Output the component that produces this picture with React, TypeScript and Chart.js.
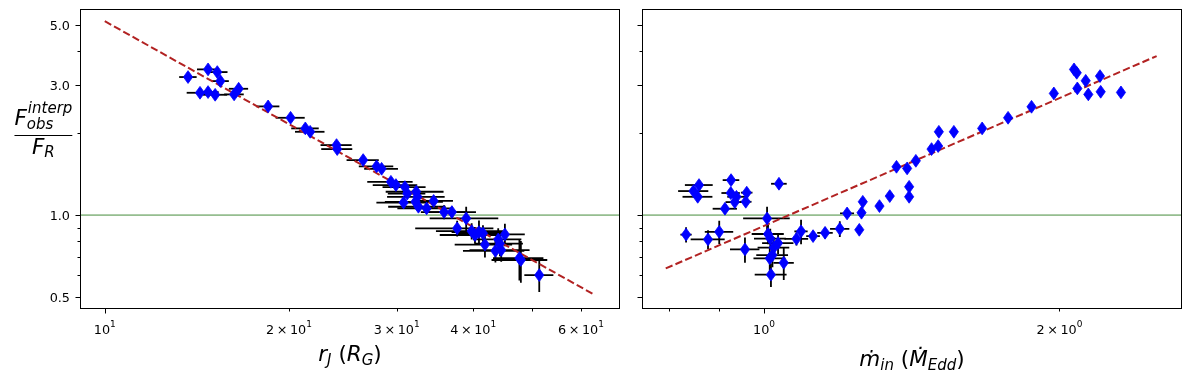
import React, { useEffect, useRef } from 'react';
import { Chart, registerables } from 'chart.js';

Chart.register(...registerables);

// ---------------- Left panel: r_J (R_G) vs F_obs^interp / F_R ----------------
const LEFT_R = [13.68, 14.75, 15.27, 15.45, 14.31, 14.75, 15.15, 16.27, 16.55, 18.49, 20.12, 21.27, 21.66, 23.92, 23.98, 26.44, 27.81, 28.34, 29.35, 29.91, 30.94, 31.21, 30.79, 32.28, 32.43, 32.19, 32.55, 33.57, 34.47, 35.85, 36.92, 38.96, 37.66, 39.77, 40.27, 40.88, 41.5, 41.81, 43.95, 45.07, 44.23, 43.49, 44.45, 47.6, 47.86, 51.29];
const LEFT_F = [3.212, 3.427, 3.35, 3.104, 2.812, 2.829, 2.765, 2.774, 2.909, 2.506, 2.276, 2.081, 2.022, 1.807, 1.747, 1.592, 1.51, 1.479, 1.325, 1.289, 1.267, 1.199, 1.111, 1.218, 1.167, 1.119, 1.073, 1.058, 1.127, 1.026, 1.026, 0.972, 0.894, 0.873, 0.845, 0.866, 0.857, 0.779, 0.814, 0.849, 0.786, 0.739, 0.744, 0.695, 0.684, 0.602];
const LEFT_R_ERR = [0.45, 0.6, 0.6, 0.5, 0.7, 0.6, 0.7, 0.6, 0.6, 0.8, 1.1, 1.1, 1.2, 1.4, 1.4, 1.6, 1.8, 1.8, 2.5, 2.5, 2.5, 2.2, 3.0, 3.5, 3.5, 3.5, 3.5, 3.5, 2.6, 3.0, 3.5, 5.0, 5.5, 5.0, 5.0, 4.0, 4.0, 4.5, 4.0, 3.5, 4.0, 5.0, 5.0, 4.5, 5.0, 2.8];
const LEFT_F_ERR = [0, 0, 0, 0, 0, 0, 0, 0, 0, 0, 0, 0, 0, 0, 0, 0, 0, 0, 0, 0, 0, 0, 0.05, 0.04, 0.04, 0.04, 0.04, 0.04, 0.04, 0.06, 0.05, 0.1, 0.06, 0.06, 0.06, 0.09, 0.06, 0.08, 0.08, 0.08, 0.08, 0.07, 0.07, 0.12, 0.12, 0.08];
const LEFT_FIT_R = [10, 62.8];
const LEFT_FIT_F = [5.15, 0.513];
const LEFT_X_LIMITS = [9.11, 69.5];
const LEFT_X_TICKS = [10, 20, 30, 40, 50, 60];
const LEFT_X_TICK_LABELS = ['10^1', '2\u2009×\u200910^1', '3\u2009×\u200910^1', '4\u2009×\u200910^1', '', '6\u2009×\u200910^1'];
const LEFT_X_MAJOR = [10];

// ---------------- Right panel: mdot_in (Mdot_Edd) vs F_obs^interp / F_R ----------------
const RIGHT_M = [0.8585, 0.8474, 0.8559, 0.9255, 0.9248, 0.9373, 0.9336, 0.9602, 0.958, 0.9124, 1.0356, 1.0071, 0.8328, 0.8768, 0.9002, 0.9562, 1.0094, 1.0147, 1.0334, 1.023, 1.0135, 1.0199, 1.0473, 1.0163, 1.079, 1.0907, 1.1219, 1.1539, 1.1945, 1.2151, 1.2504, 1.2569, 1.2607, 1.311, 1.3431, 1.3644, 1.3989, 1.4055, 1.4055, 1.4278, 1.4814, 1.5045, 1.507, 1.561, 1.6681, 1.7728, 1.873, 1.9737, 2.0694, 2.0826, 2.0855, 2.1269, 2.1399, 2.1994, 2.203, 2.3103];
const RIGHT_F = [1.289, 1.225, 1.167, 1.344, 1.205, 1.167, 1.116, 1.209, 1.119, 1.055, 1.303, 0.972, 0.848, 0.814, 0.868, 0.748, 0.852, 0.82, 0.789, 0.76, 0.694, 0.713, 0.668, 0.604, 0.818, 0.872, 0.837, 0.861, 0.89, 1.014, 0.883, 1.02, 1.119, 1.079, 1.174, 1.504, 1.484, 1.27, 1.167, 1.582, 1.747, 1.792, 2.022, 2.022, 2.081, 2.276, 2.498, 2.797, 3.427, 3.33, 2.918, 3.112, 2.774, 3.238, 2.836, 2.821];
const RIGHT_M_ERR = [0.028, 0.03, 0.03, 0.018, 0.02, 0.02, 0.02, 0.013, 0.013, 0.026, 0.019, 0.055, 0.011, 0.035, 0.03, 0.033, 0.038, 0.038, 0.038, 0.038, 0.038, 0.038, 0.025, 0.038, 0.03, 0.017, 0.018, 0.021, 0.027, 0.02, 0.01, 0.01, 0.01, 0.01, 0.01, 0.008, 0.008, 0.008, 0.008, 0.008, 0.008, 0.008, 0.008, 0.008, 0.01, 0.01, 0.01, 0.01, 0.01, 0.01, 0.01, 0.01, 0.01, 0.01, 0.01, 0.01];
const RIGHT_F_ERR = [0, 0, 0, 0, 0, 0, 0, 0, 0, 0, 0, 0.1, 0.055, 0.065, 0.085, 0.08, 0.07, 0.07, 0.07, 0.07, 0.07, 0.07, 0.09, 0.06, 0.045, 0.09, 0.035, 0.04, 0.06, 0.03, 0, 0, 0, 0, 0, 0, 0, 0, 0, 0, 0, 0, 0, 0, 0, 0, 0, 0, 0, 0, 0, 0, 0, 0, 0, 0];
const RIGHT_FIT_M = [0.794, 2.512];
const RIGHT_FIT_F = [0.637, 3.835];
const RIGHT_X_LIMITS = [0.751, 2.666];
const RIGHT_X_TICKS = [0.8, 0.9, 1, 2];
const RIGHT_X_TICK_LABELS = ['', '', '10^0', '2\u2009×\u200910^0'];
const RIGHT_X_MAJOR = [1];

// ---------------- Shared y axis ----------------
const Y_LIMITS = [0.452, 5.71];
const Y_TICKS = [0.5, 0.6, 0.7, 0.8, 0.9, 1, 2, 3, 4, 5];
const Y_TICK_LABELS = ['0.5', '', '', '', '', '1.0', '', '3.0', '', '5.0'];
const Y_MAJOR = [0.5, 1, 3, 5];
const REFERENCE_LEVEL = 1;

const FONT = '"DejaVu Sans", "Noto Sans", sans-serif';

type Run = { t: string; size: number; italic?: boolean; dy?: number };

function fontOf(r: Run) {
  return `${r.italic ? 'italic ' : ''}${r.size}px ${FONT}`;
}

function drawRuns(ctx: CanvasRenderingContext2D, runs: Run[], x: number, baseY: number, align: 'center' | 'left' | 'right') {
  let total = 0;
  const widths = runs.map((r) => {
    ctx.font = fontOf(r);
    const w = ctx.measureText(r.t).width;
    total += w;
    return w;
  });
  let cx = align === 'center' ? x - total / 2 : align === 'right' ? x - total : x;
  ctx.textAlign = 'left';
  ctx.textBaseline = 'alphabetic';
  runs.forEach((r, i) => {
    ctx.font = fontOf(r);
    ctx.fillText(r.t, cx, baseY + (r.dy || 0));
    cx += widths[i];
  });
}

function tickRuns(label: string): Run[] {
  const parts = label.split('^');
  const runs: Run[] = [{ t: parts[0], size: 12.8 }];
  if (parts.length > 1) runs.push({ t: parts[1], size: 9, dy: -6.5 });
  return runs;
}

interface PanelCfg {
  xs: number[];
  ys: number[];
  xErr: number[];
  yErr: number[];
  fitX: number[];
  fitY: number[];
  xLimits: number[];
  padding: { left: number; right: number; top: number; bottom: number };
  xTicks: number[];
  xTickLabels: string[];
  xMajor: number[];
  showYLabels: boolean;
  xTitle: Run[];
  xTitleX: number;
  xTitleY: number;
  yTitle: boolean;
}

function drawYTitle(ctx: CanvasRenderingContext2D) {
  const big = 21.5;
  const small = 15;
  ctx.fillStyle = '#000';
  ctx.textAlign = 'left';
  ctx.textBaseline = 'alphabetic';
  ctx.font = `italic ${big}px ${FONT}`;
  const wF = ctx.measureText('F').width;
  ctx.font = `italic ${small}px ${FONT}`;
  const wSup = ctx.measureText('interp').width;
  const wSub = ctx.measureText('obs').width;
  const wR = ctx.measureText('R').width;
  const numW = wF + Math.max(wSup, wSub) + 1;
  const cx = 43.4;
  const x0 = cx - numW / 2;
  ctx.font = `italic ${big}px ${FONT}`;
  ctx.fillText('F', x0, 125);
  ctx.font = `italic ${small}px ${FONT}`;
  ctx.fillText('interp', x0 + wF + 1, 112.8);
  ctx.fillText('obs', x0 + wF, 128.5);
  ctx.strokeStyle = '#000';
  ctx.lineWidth = 1;
  ctx.beginPath();
  ctx.moveTo(x0, 135.5);
  ctx.lineTo(x0 + numW, 135.5);
  ctx.stroke();
  const denW = wF + wR;
  const x1 = cx - denW / 2;
  ctx.font = `italic ${big}px ${FONT}`;
  ctx.fillText('F', x1, 153.5);
  ctx.font = `italic ${small}px ${FONT}`;
  ctx.fillText('R', x1 + wF, 157);
}

function makePlugin(cfg: PanelCfg) {
  return {
    id: 'mplAxes',
    beforeDatasetsDraw(chart: any) {
      const ctx: CanvasRenderingContext2D = chart.ctx;
      const ca = chart.chartArea;
      const xs = chart.scales.x;
      const ys = chart.scales.y;
      ctx.save();
      ctx.beginPath();
      ctx.rect(ca.left, ca.top, ca.right - ca.left, ca.bottom - ca.top);
      ctx.clip();
      ctx.strokeStyle = '#000';
      ctx.lineWidth = 1.8;
      ctx.lineCap = 'butt';
      cfg.xs.forEach((x, i) => {
        const y = cfg.ys[i];
        const px = xs.getPixelForValue(x);
        const py = ys.getPixelForValue(y);
        const ex = cfg.xErr[i];
        const ey = cfg.yErr[i];
        ctx.beginPath();
        if (ex > 0) {
          ctx.moveTo(xs.getPixelForValue(x - ex), py);
          ctx.lineTo(xs.getPixelForValue(x + ex), py);
        }
        if (ey > 0) {
          ctx.moveTo(px, ys.getPixelForValue(y - ey));
          ctx.lineTo(px, ys.getPixelForValue(y + ey));
        }
        ctx.stroke();
      });
      ctx.restore();
    },
    afterDatasetsDraw(chart: any) {
      // thin-diamond markers at the positions the scatter dataset computed
      const ctx: CanvasRenderingContext2D = chart.ctx;
      const meta = chart.getDatasetMeta(0);
      ctx.save();
      ctx.fillStyle = '#0000ff';
      ctx.strokeStyle = '#0000ff';
      ctx.lineWidth = 0.8;
      const hw = 4.6;
      const hh = 6.4;
      meta.data.forEach((el: any) => {
        const { x, y } = el;
        ctx.beginPath();
        ctx.moveTo(x, y - hh);
        ctx.lineTo(x + hw, y);
        ctx.lineTo(x, y + hh);
        ctx.lineTo(x - hw, y);
        ctx.closePath();
        ctx.fill();
        ctx.stroke();
      });
      ctx.restore();
    },
    afterDraw(chart: any) {
      const ctx: CanvasRenderingContext2D = chart.ctx;
      const ca = chart.chartArea;
      const xs = chart.scales.x;
      const ys = chart.scales.y;
      ctx.save();
      ctx.strokeStyle = '#000';
      ctx.fillStyle = '#000';
      ctx.lineWidth = 1;
      ctx.strokeRect(Math.round(ca.left) + 0.5, Math.round(ca.top) + 0.5, Math.round(ca.right - ca.left) - 1, Math.round(ca.bottom - ca.top) - 1);
      const bottom = Math.round(ca.bottom) - 0.5;
      cfg.xTicks.forEach((v, i) => {
        const px = Math.round(xs.getPixelForValue(v)) + 0.5;
        const len = cfg.xMajor.includes(v) ? 5 : 3;
        ctx.beginPath();
        ctx.moveTo(px, bottom);
        ctx.lineTo(px, bottom + len);
        ctx.stroke();
        const lab = cfg.xTickLabels[i];
        if (lab) drawRuns(ctx, tickRuns(lab), xs.getPixelForValue(v), ca.bottom + 24.5, 'center');
      });
      const left = Math.round(ca.left) + 0.5;
      Y_TICKS.forEach((v, i) => {
        const py = Math.round(ys.getPixelForValue(v)) + 0.5;
        const len = Y_MAJOR.includes(v) ? 5 : 3;
        ctx.beginPath();
        ctx.moveTo(left, py);
        ctx.lineTo(left - len, py);
        ctx.stroke();
        const lab = Y_TICK_LABELS[i];
        if (lab && cfg.showYLabels) drawRuns(ctx, [{ t: lab, size: 12.8 }], ca.left - 10, ys.getPixelForValue(v) + 5, 'right');
      });
      drawRuns(ctx, cfg.xTitle, cfg.xTitleX, cfg.xTitleY, 'center');
      if (cfg.yTitle) drawYTitle(ctx);
      ctx.restore();
    },
  };
}

function buildChart(canvas: HTMLCanvasElement, cfg: PanelCfg) {
  return new Chart(canvas, {
    type: 'scatter',
    data: {
      datasets: [
        {
          data: cfg.xs.map((x, i) => ({ x, y: cfg.ys[i] })),
          pointStyle: false as any,
          pointRadius: 6,
          backgroundColor: '#0000ff',
          borderColor: '#0000ff',
          order: 0,
        },
        {
          type: 'line' as any,
          data: cfg.fitX.map((x, i) => ({ x, y: cfg.fitY[i] })),
          borderColor: '#b22222',
          borderWidth: 2,
          borderDash: [7.4, 3.2],
          pointRadius: 0,
          fill: false,
          tension: 0,
          order: 1,
        },
        {
          type: 'line' as any,
          data: [
            { x: cfg.xLimits[0], y: REFERENCE_LEVEL },
            { x: cfg.xLimits[1], y: REFERENCE_LEVEL },
          ],
          borderColor: 'rgb(70,140,60)',
          borderWidth: 1,
          pointRadius: 0,
          fill: false,
          order: 2,
        },
      ],
    },
    options: {
      responsive: false,
      animation: false,
      devicePixelRatio: 1,
      events: [],
      layout: { padding: cfg.padding },
      scales: {
        x: { type: 'logarithmic', min: cfg.xLimits[0], max: cfg.xLimits[1], display: false },
        y: { type: 'logarithmic', min: Y_LIMITS[0], max: Y_LIMITS[1], display: false },
      },
      plugins: { legend: { display: false }, tooltip: { enabled: false } },
    },
    plugins: [makePlugin(cfg) as any],
  });
}

const LEFT_CFG: PanelCfg = {
  xs: LEFT_R,
  ys: LEFT_F,
  xErr: LEFT_R_ERR,
  yErr: LEFT_F_ERR,
  fitX: LEFT_FIT_R,
  fitY: LEFT_FIT_F,
  xLimits: LEFT_X_LIMITS,
  padding: { left: 80, right: 10, top: 9, bottom: 70 },
  xTicks: LEFT_X_TICKS,
  xTickLabels: LEFT_X_TICK_LABELS,
  xMajor: LEFT_X_MAJOR,
  showYLabels: true,
  xTitle: [
    { t: 'r', size: 21.5, italic: true },
    { t: 'J', size: 15, italic: true, dy: 4 },
    { t: ' ', size: 21.5 },
    { t: '(', size: 21.5 },
    { t: 'R', size: 21.5, italic: true },
    { t: 'G', size: 15, italic: true, dy: 4 },
    { t: ')', size: 21.5 },
  ],
  xTitleX: 350,
  xTitleY: 361,
  yTitle: true,
};

const RIGHT_CFG: PanelCfg = {
  xs: RIGHT_M,
  ys: RIGHT_F,
  xErr: RIGHT_M_ERR,
  yErr: RIGHT_F_ERR,
  fitX: RIGHT_FIT_M,
  fitY: RIGHT_FIT_F,
  xLimits: RIGHT_X_LIMITS,
  padding: { left: 12, right: 18, top: 9, bottom: 70 },
  xTicks: RIGHT_X_TICKS,
  xTickLabels: RIGHT_X_TICK_LABELS,
  xMajor: RIGHT_X_MAJOR,
  showYLabels: false,
  xTitle: [
    { t: 'ṁ', size: 21.5, italic: true },
    { t: 'in', size: 15, italic: true, dy: 4 },
    { t: ' ', size: 21.5 },
    { t: '(', size: 21.5 },
    { t: 'Ṁ', size: 21.5, italic: true },
    { t: 'Edd', size: 15, italic: true, dy: 4 },
    { t: ')', size: 21.5 },
  ],
  xTitleX: 282,
  xTitleY: 366,
  yTitle: false,
};

export default function App() {
  const leftRef = useRef<HTMLCanvasElement | null>(null);
  const rightRef = useRef<HTMLCanvasElement | null>(null);

  useEffect(() => {
    const charts: Chart[] = [];
    if (leftRef.current) charts.push(buildChart(leftRef.current, LEFT_CFG));
    if (rightRef.current) charts.push(buildChart(rightRef.current, RIGHT_CFG));
    return () => charts.forEach((c) => c.destroy());
  }, []);

  return (
    <div style={{ position: 'absolute', left: 0, top: 0, width: 1200, height: 379, background: '#fff' }}>
      <canvas ref={leftRef} width={630} height={379} style={{ position: 'absolute', left: 0, top: 0, width: 630, height: 379 }} />
      <canvas ref={rightRef} width={570} height={379} style={{ position: 'absolute', left: 630, top: 0, width: 570, height: 379 }} />
    </div>
  );
}
